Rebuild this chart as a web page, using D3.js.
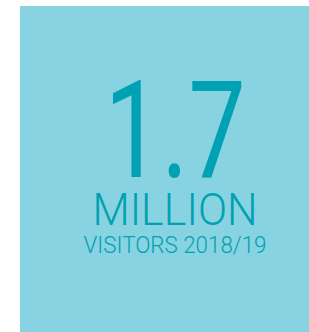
<!DOCTYPE html>
<html>
<head>
    <meta charset="utf-8">
    <title>Visitors 2018/19</title>
    <script src="https://d3js.org/d3.v7.min.js"></script>
    <style>
        body { margin: 0; background: #fff; }
    </style>
</head>
<body>
    <svg id="chart" width="309" height="332"></svg>

    <script>
        // figures shown on the card
        const visitors = [1.7];
        const unitLabel = ["MILLION"];
        const periodLabel = ["VISITORS 2018/19"];

        const width = 309, height = 332;
        const bg = "#88d3e1";
        const ink = "#00a1b2";

        const svg = d3.select('#chart');

        svg.append('rect')
            .attr('x', 20)
            .attr('y', 6)
            .attr('width', width - 20)
            .attr('height', height - 6)
            .attr('fill', bg);

        const cx = 175;

        // big number
        svg.selectAll('text.big')
            .data(visitors)
            .enter()
            .append('text')
            .attr('class', 'big')
            .attr('x', cx)
            .attr('y', 177)
            .attr('text-anchor', 'middle')
            .attr('font-family', 'Roboto, sans-serif')
            .attr('font-weight', 400)
            .attr('font-size', 135)
            .attr('textLength', 141)
            .attr('lengthAdjust', 'spacingAndGlyphs')
            .attr('fill', ink)
            .text(d => d3.format('.1f')(d));

        svg.selectAll('text.unit')
            .data(unitLabel)
            .enter()
            .append('text')
            .attr('class', 'unit')
            .attr('x', cx)
            .attr('y', 225)
            .attr('text-anchor', 'middle')
            .attr('font-family', 'Roboto, sans-serif')
            .attr('font-weight', 300)
            .attr('font-size', 45)
            .attr('textLength', 165)
            .attr('lengthAdjust', 'spacingAndGlyphs')
            .attr('fill', ink)
            .text(d => d);

        svg.selectAll('text.period')
            .data(periodLabel)
            .enter()
            .append('text')
            .attr('class', 'period')
            .attr('x', cx)
            .attr('y', 253)
            .attr('text-anchor', 'middle')
            .attr('font-family', 'Roboto, sans-serif')
            .attr('font-weight', 300)
            .attr('font-size', 24)
            .attr('textLength', 183)
            .attr('lengthAdjust', 'spacingAndGlyphs')
            .attr('fill', ink)
            .text(d => d);
    </script>
</body>
</html>
